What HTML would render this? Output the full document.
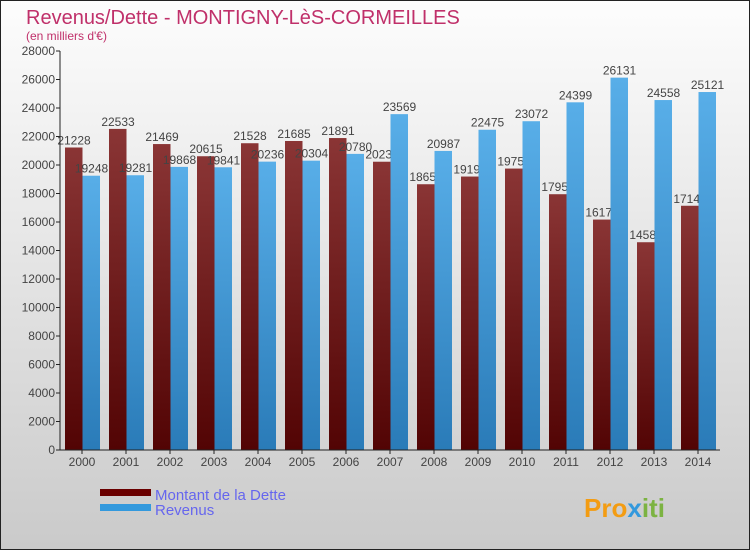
<!DOCTYPE html>
<html><head><meta charset="utf-8"><style>
html,body{margin:0;padding:0}
body{width:750px;height:550px;overflow:hidden;font-family:"Liberation Sans",sans-serif}
svg text{font-family:"Liberation Sans",sans-serif}
</style></head><body>
<svg id="chart" width="750" height="550" xmlns="http://www.w3.org/2000/svg">
<defs>
<linearGradient id="bg" x1="0" y1="0" x2="0" y2="1"><stop offset="0" stop-color="#fdfdfd"/><stop offset="1" stop-color="#cacaca"/></linearGradient>
<linearGradient id="gd" x1="0" y1="0" x2="0" y2="1"><stop offset="0" stop-color="#8a3535"/><stop offset="1" stop-color="#520404"/></linearGradient>
<linearGradient id="gr" x1="0" y1="0" x2="0" y2="1"><stop offset="0" stop-color="#58aee8"/><stop offset="1" stop-color="#2a7bb8"/></linearGradient>
</defs>
<rect x="0.5" y="0.5" width="749" height="549" fill="url(#bg)" stroke="#222"/>
<text x="26" y="24" font-size="20" fill="#c0306a">Revenus/Dette - MONTIGNY-LèS-CORMEILLES</text>
<text x="26" y="40" font-size="12" fill="#c0306a">(en milliers d'€)</text>
<g id="plot"></g>
<rect x="100" y="489" width="51" height="7" fill="#6a0000"/>
<text x="155" y="500" font-size="15" fill="#6666ee">Montant de la Dette</text>
<rect x="100" y="504" width="51" height="7" fill="#3399dd"/>
<text x="155" y="515" font-size="15" fill="#6666ee">Revenus</text>
<text x="584" y="517" font-size="26" font-weight="bold" fill="#f39c12">Pro<tspan fill="#3399dd">x</tspan><tspan fill="#7cb342">iti</tspan></text>
</svg>
<script>
const years=["2000","2001","2002","2003","2004","2005","2006","2007","2008","2009","2010","2011","2012","2013","2014"];
const dette=[21228,22533,21469,20615,21528,21685,21891,20230,18650,19190,19750,17950,16170,14580,17140];
const revenus=[19248,19281,19868,19841,20236,20304,20780,23569,20987,22475,23072,24399,26131,24558,25121];
const yTicks=[0,2000,4000,6000,8000,10000,12000,14000,16000,18000,20000,22000,24000,26000,28000];
const NS="http://www.w3.org/2000/svg";
const x0=60,step=44,y0=450,yTop=51,yMax=28000;
const yS=v=>y0-(v/yMax)*(y0-yTop);
const xS=i=>x0+step*i;
const g=document.getElementById('plot');
function mk(t,a){const e=document.createElementNS(NS,t);for(const k in a)e.setAttribute(k,a[k]);g.appendChild(e);return e;}
yTicks.forEach(v=>{
 const y=yS(v);
 const l=mk('line',{x1:x0-4,x2:x0,y1:y,y2:y,stroke:'#222'});
 
 
 const t=mk('text',{x:x0-5,y:y+4,'font-size':12,'text-anchor':'end',fill:'#444'});t.textContent=v;
 
 
});
years.forEach((yr,i)=>{
 const bx=xS(i)+5;
 const h=yS(dette[i]);
 const r=mk('rect',{x:bx,y:h,width:17.5,height:y0-h,fill:'url(#gd)'});
 
 
 const t=mk('text',{x:bx+9,y:h-3,'font-size':12,'text-anchor':'middle',fill:'#444'});t.textContent=dette[i];
 
 
});
years.forEach((yr,i)=>{
 const bx=xS(i)+22.5;
 const h=yS(revenus[i]);
 const r=mk('rect',{x:bx,y:h,width:17.5,height:y0-h,fill:'url(#gr)'});
 
 
 const t=mk('text',{x:bx+9,y:h-3,'font-size':12,'text-anchor':'middle',fill:'#444'});t.textContent=revenus[i];
 
 
 const tk=mk('line',{x1:xS(i)+22,x2:xS(i)+22,y1:y0,y2:y0+4,stroke:'#222'});
 
 
 const xl=mk('text',{x:xS(i)+22,y:y0+16,'font-size':12,'text-anchor':'middle',fill:'#444'});xl.textContent=yr;
 
 
});
const ax=mk('line',{x1:x0,x2:x0,y1:yTop,y2:y0,stroke:'#222'});


const bx=mk('line',{x1:x0,x2:x0+step*years.length,y1:y0,y2:y0,stroke:'#222'});


</script>
</body></html>
